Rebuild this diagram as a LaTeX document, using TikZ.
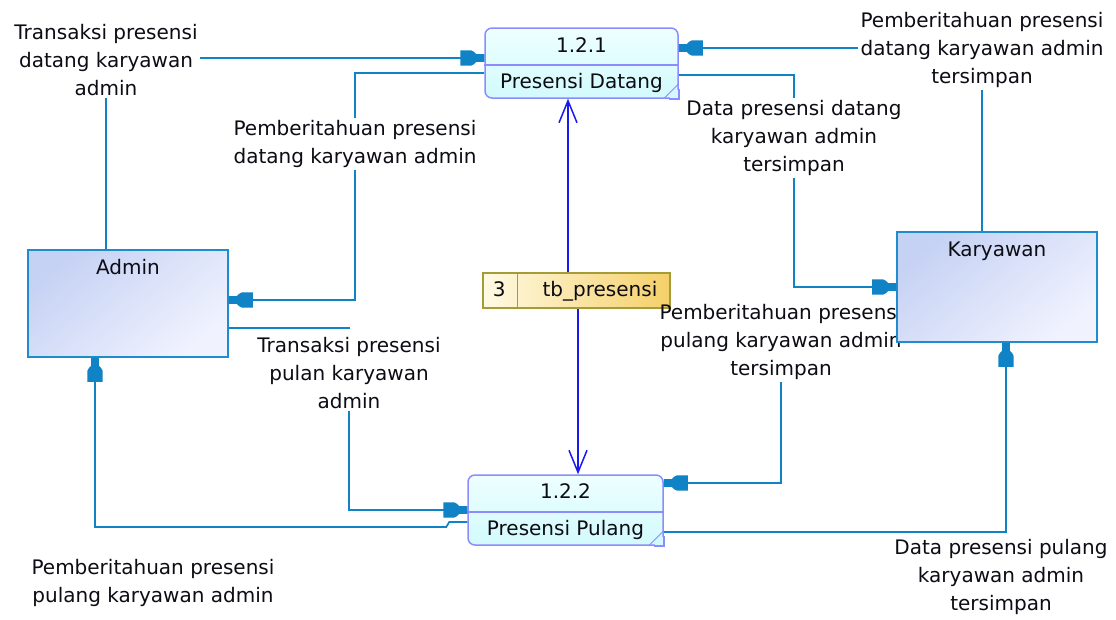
\documentclass[tikz,border=0pt]{standalone}
\usepackage{fontspec}
\setmainfont{DejaVu Sans}
\usetikzlibrary{arrows.meta,calc}

% Filled data-flow tip: narrow neck at the target, wide block behind it
\pgfdeclarearrow{
  name = DFDtip,
  setup code = {
    \pgfarrowssettipend{0pt}
    \pgfarrowssetlineend{-19pt}
    \pgfarrowssetbackend{-24pt}
    \pgfarrowshullpoint{0pt}{4pt}
    \pgfarrowshullpoint{0pt}{-4pt}
    \pgfarrowshullpoint{-24pt}{7.5pt}
    \pgfarrowshullpoint{-24pt}{-7.5pt}
  },
  drawing code = {
    \pgfpathmoveto{\pgfqpoint{0pt}{3.8pt}}
    \pgfpathlineto{\pgfqpoint{-8pt}{3.8pt}}
    \pgfpathlineto{\pgfqpoint{-10pt}{6pt}}
    \pgfpathlineto{\pgfqpoint{-13pt}{7.6pt}}
    \pgfpathlineto{\pgfqpoint{-24pt}{7.6pt}}
    \pgfpathlineto{\pgfqpoint{-24pt}{-7.6pt}}
    \pgfpathlineto{\pgfqpoint{-13pt}{-7.6pt}}
    \pgfpathlineto{\pgfqpoint{-10pt}{-6pt}}
    \pgfpathlineto{\pgfqpoint{-8pt}{-3.8pt}}
    \pgfpathlineto{\pgfqpoint{0pt}{-3.8pt}}
    \pgfpathclose
    \pgfusepathqfill
  }
}

\definecolor{txt}{RGB}{12,12,20}
\definecolor{flowblue}{RGB}{16,130,198}
\definecolor{dsblue}{RGB}{25,25,240}
\definecolor{procline}{RGB}{140,140,255}
\definecolor{proctop}{RGB}{238,255,255}
\definecolor{procbot}{RGB}{210,250,252}
\definecolor{dsline}{RGB}{165,155,55}
\definecolor{dsleft}{RGB}{255,250,228}
\definecolor{dsright}{RGB}{245,208,105}
\definecolor{entline}{RGB}{30,140,205}
\definecolor{entdark}{RGB}{198,210,244}
\definecolor{entlight}{RGB}{240,242,254}

% square folded corner at the lower right of a process box
\newcommand\foldcorner[1]{%
  \fill[procbot] ([xshift=-9pt,yshift=9pt]#1.south east) rectangle (#1.south east);
  \draw[procline, line width=1.5pt] ([yshift=10pt]#1.south east) -- (#1.south east) -- ([xshift=-10pt]#1.south east);
  \draw[procline, line width=0.8pt] ([yshift=15pt]#1.south east) -- ([xshift=-15pt]#1.south east);
}

\begin{document}
\begin{tikzpicture}[x=1pt, y=-1pt,
  every node/.style={font=\fontsize{20}{28}\selectfont, text=txt},
  procbox/.style={rectangle, rounded corners=7pt, draw=procline, line width=1.5pt,
    top color=proctop, bottom color=procbot, minimum height=70pt, inner sep=0pt},
  proctext/.style={inner sep=0pt, text height=15pt, text depth=4pt},
  dsbox/.style={rectangle, draw=dsline, line width=1.5pt, left color=dsleft, right color=dsright,
    minimum width=187pt, minimum height=35pt, inner sep=0pt},
  entity/.style={rectangle, draw=entline, line width=1.6pt, shading=axis,
    top color=entdark, bottom color=entlight, shading angle=40, inner sep=0pt},
  lbl/.style={align=center, inner sep=2pt},
  flow/.style={draw=flowblue, line width=1.7pt},
  flowto/.style={flow, -{DFDtip}},
  dslink/.style={draw=dsblue, line width=1.5pt, -{Straight Barb[length=22pt, width=18pt, line width=1.5pt]}}]

\useasboundingbox[fill=white] (0,0) rectangle (1116,619);

% processes
\node[procbox, minimum width=193pt] (p1) at (581.5,63) {};
\foldcorner{p1}
\draw[procline, line width=1.5pt] ([yshift=-2pt]p1.west) -- ([yshift=-2pt]p1.east);
\node[proctext] (p1num) at ([yshift=16pt]p1.center) {1.2.1};
\node[proctext] (p1name) at ([yshift=-20pt]p1.center) {Presensi Datang};

\node[procbox, minimum width=195pt] (p2) at (565.5,510) {};
\foldcorner{p2}
\draw[procline, line width=1.5pt] ([yshift=-2pt]p2.west) -- ([yshift=-2pt]p2.east);
\node[proctext] (p2num) at ([yshift=17pt]p2.center) {1.2.2};
\node[proctext] (p2name) at ([yshift=-20pt]p2.center) {Presensi Pulang};

% data store
\node[dsbox] (ds) at (576.5,290.5) {};
\draw[dsline, line width=1.5pt] ([xshift=35pt]ds.north west) -- ([xshift=35pt]ds.south west);
\node[proctext] (dsnum) at ([xshift=17pt]ds.west) {3};
\node[proctext] (dsname) at ([xshift=23.5pt]ds.center) {tb\_presensi};

% external entity Admin
\node[entity, minimum width=200pt, minimum height=107pt] (adm) at (128,303.5) {};
\node[proctext] (admt) at ([yshift=-20pt]adm.north) {Admin};

% flow labels
\node[lbl] (L1) at (106,60) {Transaksi presensi\\datang karyawan\\admin};
\node[lbl] (L2) at (355,144) {Pemberitahuan presensi\\datang karyawan admin};
\node[lbl] (L3) at (794,138) {Data presensi datang\\karyawan admin\\tersimpan};
\node[lbl] (L4) at (982,50) {Pemberitahuan presensi\\datang karyawan admin\\tersimpan};
\node[lbl] (L5) at (349,373) {Transaksi presensi\\pulan karyawan\\admin};
\node[lbl] (L6) at (153,583) {Pemberitahuan presensi\\pulang karyawan admin};
\node[lbl] (L7) at (781,342) {Pemberitahuan presensi\\pulang karyawan admin\\tersimpan};
\node[lbl] (L8) at (1001,577) {Data presensi pulang\\karyawan admin\\tersimpan};

% external entity Karyawan
\node[entity, minimum width=200pt, minimum height=110pt] (kar) at (997,287) {};
\node[proctext] (kart) at ([yshift=-20pt]kar.north) {Karyawan};

% data flows
\draw[flow] (L1.south |- adm.north) -- (L1.south);
\draw[flowto] ([yshift=5pt]p1.west -| L1.east) -- ([yshift=5pt]p1.west);

\draw[flow] ([yshift=-10pt]p1.west) -| (L2.north);
\draw[flowto] (L2.south) |- ([yshift=3.5pt]adm.east);

\draw[flow] ([yshift=-12pt]p1.east) -| (L3.north);
\draw[flowto] (L3.south) |- (kar.west);

\draw[flow] (L4.south |- kar.north) -- (L4.south);
\draw[flowto] ([yshift=15pt]p1.east -| L4.west) -- ([yshift=15pt]p1.east);

\coordinate (t5) at (350,328);
\draw[flow] (t5 -| adm.east) -- (t5);
\draw[flowto] (L5.south) |- (p2.west);

\draw[flowto] ([yshift=-12pt]p2.west) -- ++(-18,0) -- ++(-3,5) -| ([xshift=-33pt]adm.south);

\draw[flowto] (L7.south) |- ([yshift=27pt]p2.east);

\draw[flowto] ([yshift=-22pt]p2.east) -| ([xshift=9pt]kar.south);

% data store access
\draw[dslink] ([xshift=-8.5pt]ds.north) -- ([xshift=-8.5pt]ds.north |- p1.south);
\draw[dslink] ([xshift=1.5pt]ds.south) -- ([xshift=1.5pt]ds.south |- p2.north);

\end{tikzpicture}
\end{document}
